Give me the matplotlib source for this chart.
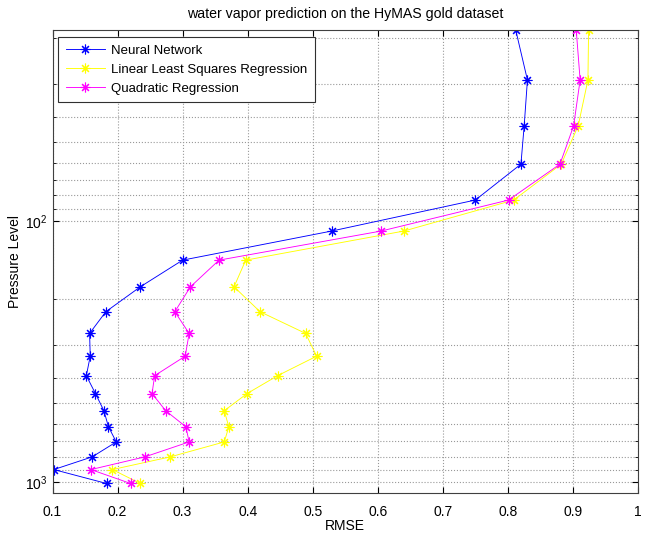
import matplotlib
matplotlib.use('Agg')
import matplotlib.pyplot as plt
from matplotlib.ticker import LogLocator, NullFormatter, MultipleLocator

plt.rcParams['font.family'] = ['Liberation Sans', 'DejaVu Sans']

# pressure levels, top of atmosphere first
pressure = [18.6, 28.9, 43.3, 60.7, 83.3, 109.5, 141.5, 179, 223, 270,
            330, 392, 459, 534, 615, 703, 802, 897, 1014]

rmse_nn = [0.812, 0.830, 0.825, 0.820, 0.750, 0.529, 0.300, 0.235, 0.182, 0.157,
           0.158, 0.152, 0.166, 0.179, 0.186, 0.198, 0.161, 0.102, 0.183]
rmse_lls = [0.924, 0.923, 0.908, 0.882, 0.809, 0.640, 0.397, 0.379, 0.419, 0.489,
            0.506, 0.446, 0.399, 0.364, 0.371, 0.364, 0.281, 0.192, 0.235]
rmse_quad = [0.905, 0.911, 0.901, 0.880, 0.801, 0.605, 0.356, 0.312, 0.288, 0.310,
             0.304, 0.257, 0.253, 0.274, 0.305, 0.310, 0.242, 0.159, 0.220]

series = [
    ('Neural Network', rmse_nn, (0, 0, 1)),
    ('Linear Least Squares Regression', rmse_lls, (1, 1, 0)),
    ('Quadratic Regression', rmse_quad, (1, 0, 1)),
]

fig = plt.figure(figsize=(6.49, 5.33), dpi=100)
ax = fig.add_axes([0.0809, 0.0756, 0.9022, 0.8681])

for name, vals, col in series:
    ax.plot(vals, pressure, color=col, lw=0.65, marker=(8, 2, 0),
            markersize=7, markeredgewidth=0.8, label=name)

ax.set_yscale('log')
ax.set_ylim(1100, 18.6)
ax.set_xlim(0.1, 1.0)
ax.xaxis.set_major_locator(MultipleLocator(0.1))
ax.yaxis.set_major_locator(LogLocator(base=10, numticks=10))
ax.yaxis.set_minor_locator(LogLocator(base=10, subs=range(2, 10), numticks=20))
ax.yaxis.set_minor_formatter(NullFormatter())
ax.xaxis.set_major_formatter(plt.FuncFormatter(lambda v, p: '1' if abs(v - 1) < 1e-9 else '%.1f' % v))

ax.grid(True, which='major', ls=':', color='#999999', lw=0.8)
ax.grid(True, which='minor', axis='y', ls=':', color='#999999', lw=0.8)
ax.tick_params(which='both', direction='in', top=True, right=True, labelsize=10)
ax.tick_params(axis='x', pad=9)
ax.tick_params(which='major', length=4)
ax.tick_params(which='minor', length=2.5)
for s in ax.spines.values():
    s.set_color('#404040')
    s.set_linewidth(0.8)

ax.set_xlabel('RMSE', fontsize=10)
ax.xaxis.set_label_coords(0.5, -0.056)
ax.set_ylabel('Pressure Level', fontsize=10, labelpad=2)
ax.set_title('water vapor prediction on the HyMAS gold dataset', fontsize=10.2, pad=9)

leg = ax.legend(loc='upper left', bbox_to_anchor=(0.01, 0.984), borderaxespad=0,
                fancybox=False, framealpha=1, edgecolor='#303030', fontsize=9.5,
                handlelength=3.0, handletextpad=0.45, borderpad=0.55,
                labelspacing=0.52)
leg.get_frame().set_linewidth(0.8)

fig.savefig('out.png', dpi=100)
